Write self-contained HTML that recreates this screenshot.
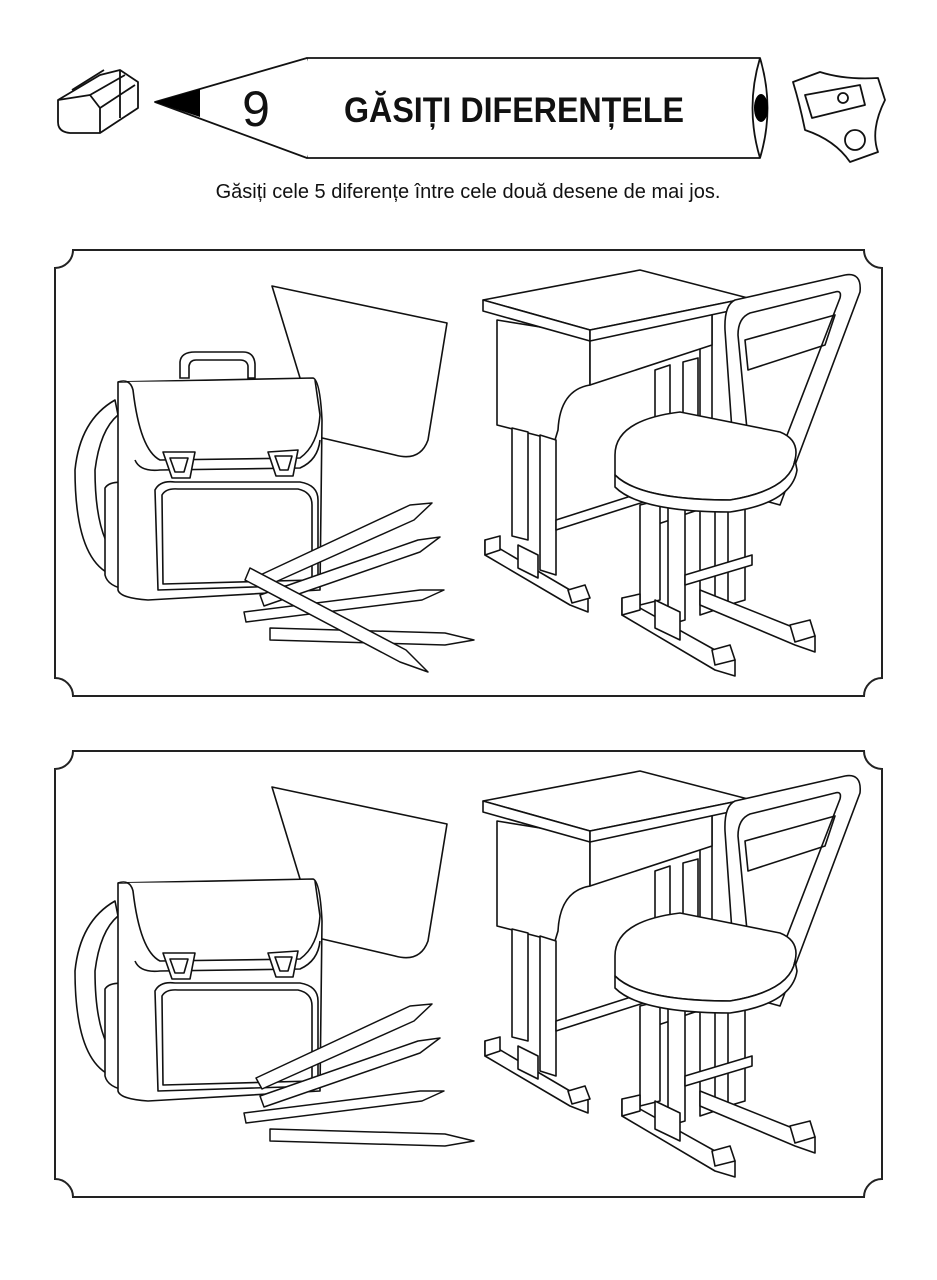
<!DOCTYPE html>
<html><head><meta charset="utf-8"><style>
html,body{margin:0;padding:0;background:#fff}
svg{display:block}
</style></head><body>
<svg width="937" height="1280" viewBox="0 0 937 1280" xmlns="http://www.w3.org/2000/svg" font-family="Liberation Sans, sans-serif">
<defs>
<g id="frame">
<path d="M73,250 H864 A18,18 0 0 0 882,268 V678 A18,18 0 0 0 864,696 H73 A18,18 0 0 0 55,678 V268 A18,18 0 0 0 73,250 Z" fill="#fff" stroke="#222" stroke-width="2"/>
</g>
<g id="bag" fill="#fff" stroke="#111" stroke-width="1.6" stroke-linejoin="round">
<path d="M272,286 L447,323 L428,440 Q420,462 395,455 L318,437 Z"/>
<path d="M115,400 Q80,420 75,470 Q75,560 112,575 L120,560 Q95,540 95,470 Q100,430 118,415 Z"/>
<path d="M105,488 Q110,480 130,483 L132,590 Q108,588 105,575 Z"/>
<path d="M118,382 L313,378 Q320,380 322,420 L320,590 L148,600 Q120,598 118,590 Z"/>
<path d="M118,382 Q130,378 133,390 Q140,450 160,460 L300,458 Q318,445 320,415 L315,380"/>
<path d="M135,460 Q140,472 160,470 L300,468 Q318,460 320,440" fill="none"/>
<path d="M155,490 Q160,480 175,482 L300,482 Q318,485 318,500 L318,585 L158,590 Z"/>
<path d="M162,495 Q166,488 178,489 L298,489 Q312,492 312,505 L312,580 L163,584 Z"/>
<path d="M163,452 L195,452 L190,478 L172,478 Z"/>
<path d="M170,458 L188,458 L184,472 L175,472 Z"/>
<path d="M268,452 L298,450 L293,476 L276,476 Z"/>
<path d="M275,456 L292,456 L288,470 L280,470 Z"/>
</g>
<g id="handle" fill="#fff" stroke="#111" stroke-width="1.6">
<path d="M180,378 L180,362 Q181,352 195,352 L243,352 Q254,352 255,364 L255,378 L248,378 L248,366 Q247,360 240,360 L196,360 Q190,360 189,366 L189,378 Z"/>
</g>
<g id="pencils" fill="#fff" stroke="#111" stroke-width="1.5" stroke-linejoin="round">
<path d="M256,577 L410,505 L432,503 L414,520 L262,588 Z"/>
<path d="M260,595 L418,540 L440,537 L420,552 L264,606 Z"/>
<path d="M244,612 L420,590 L444,590 L422,600 L246,622 Z"/>
<path d="M270,628 L445,633 L474,640 L445,645 L270,640 Z"/>
</g>
<g id="longpencil" fill="#fff" stroke="#111" stroke-width="1.5" stroke-linejoin="round">
<path d="M250,568 L406,650 L428,672 L400,662 L245,580 Z"/>
</g>
<g id="desk" fill="#fff" stroke="#111" stroke-width="1.6" stroke-linejoin="round">
<path d="M650,325 L712,310 L712,440 L700,445 L700,330 Z"/>
<path d="M655,370 L670,365 L670,520 L655,525 Z"/>
<path d="M683,362 L698,358 L698,510 L683,515 Z"/>
<path d="M497,320 L590,335 L590,385 Q560,390 558,430 L555,440 L497,425 Z"/>
<path d="M590,335 L712,312 L712,345 L590,385 Z"/>
<path d="M483,300 L640,270 L748,298 L590,330 Z"/>
<path d="M483,300 L590,330 L590,341 L483,311 Z"/>
<path d="M590,330 L748,298 L748,307 L590,341 Z"/>
<path d="M512,428 L528,432 L528,540 L512,536 Z"/>
<path d="M540,435 L556,440 L556,575 L540,570 Z"/>
<path d="M556,520 L650,490 L650,500 L556,530 Z"/>
<path d="M485,540 L570,590 L588,598 L588,612 L570,605 L485,555 Z"/>
<path d="M485,540 L500,536 L500,550 L485,555 Z"/>
<path d="M568,590 L585,585 L590,598 L572,603 Z"/>
<path d="M518,545 L538,555 L538,578 L518,568 Z"/>
<path d="M640,505 L660,500 L660,600 L640,605 Z"/>
<path d="M668,498 L685,494 L685,620 L668,625 Z"/>
<path d="M700,490 L715,486 L715,610 L700,615 Z"/>
<path d="M728,480 L745,476 L745,600 L728,605 Z"/>
<path d="M622,598 L715,650 L735,660 L735,676 L715,670 L622,615 Z"/>
<path d="M622,598 L640,594 L640,610 L622,615 Z"/>
<path d="M712,650 L730,645 L735,660 L715,665 Z"/>
<path d="M700,590 L795,628 L815,636 L815,652 L795,645 L700,605 Z"/>
<path d="M790,625 L810,620 L815,636 L795,642 Z"/>
<path d="M685,575 L752,555 L752,565 L685,585 Z"/>
<path d="M655,600 L680,612 L680,640 L655,628 Z"/>
<path d="M735,300 L845,275 Q862,272 860,292 L780,505 L762,500 L840,298 Q842,290 835,292 L750,313 Q738,318 738,335 L748,440 L733,445 L725,330 Q724,305 735,300 Z"/>
<path d="M745,340 L835,315 L825,345 L748,370 Z" fill="none"/>
<path d="M615,455 Q615,420 680,412 L780,432 Q800,440 795,460 Q790,490 730,500 Q640,500 615,475 Z"/>
<path d="M615,475 Q640,500 730,500 Q790,490 795,460 L797,470 Q792,503 730,512 Q640,512 615,487 Z"/>
</g>
</defs>

<!-- header -->
<g fill="#fff" stroke="#111" stroke-width="1.8" stroke-linejoin="round">
<path d="M58,100 L100,75 L120,70 L138,82 L138,108 L100,133 L70,133 Q58,132 58,122 Z"/>
<path d="M58,100 L90,95 L100,108 L100,133" fill="none"/>
<path d="M72,90 L104,70 M90,95 L125,75 M100,108 L135,85 M120,70 L120,118" fill="none"/>
<path d="M307,58 L760,58 Q775,108 760,158 L307,158 Q292,108 307,58 Z"/>
<path d="M307,58 L155,102 L307,158" />
<path d="M760,58 Q745,108 760,158" fill="none"/>
<path d="M793,82 L820,72 Q845,80 878,78 L885,100 Q870,130 878,152 L850,162 Q835,140 805,130 Q800,105 793,82 Z"/>
<path d="M805,95 L860,85 L865,105 L812,118 Z" fill="none"/>
<circle cx="855" cy="140" r="10"/>
<circle cx="843" cy="98" r="5"/>
</g>
<path d="M155,102 L200,89 L200,117 Z" fill="#000"/>
<ellipse cx="761" cy="108" rx="7" ry="14" fill="#000"/>
<text x="256" y="126" font-size="50" text-anchor="middle" fill="#111">9</text>
<text x="514" y="122" font-size="35" font-weight="bold" text-anchor="middle" fill="#111" textLength="340" lengthAdjust="spacingAndGlyphs">GĂSIȚI DIFERENȚELE</text>
<text x="468" y="198" font-size="20" text-anchor="middle" fill="#111">Găsiți cele 5 diferențe între cele două desene de mai jos.</text>

<!-- top panel -->
<use href="#frame"/>
<use href="#handle"/>
<use href="#bag"/>
<use href="#pencils"/>
<use href="#longpencil"/>
<use href="#desk"/>

<!-- bottom panel -->
<g transform="translate(0,501)">
<use href="#frame"/>
<use href="#bag"/>
<use href="#pencils"/>
<use href="#desk"/>
</g>
</svg>
</body></html>
